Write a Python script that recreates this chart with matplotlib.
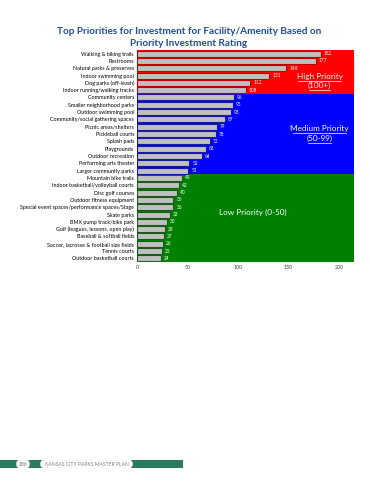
import matplotlib
matplotlib.use("Agg")
import matplotlib.pyplot as plt
from matplotlib.patches import FancyBboxPatch

plt.rcParams['font.family'] = ['Lato', 'DejaVu Sans']

categories = [
    "Walking & biking trails", "Restrooms", "Natural parks & preserves",
    "Indoor swimming pool", "Dog parks (off-leash)", "Indoor running/walking tracks",
    "Community centers", "Smaller neighborhood parks", "Outdoor swimming pool",
    "Community/social gathering spaces", "Picnic areas/shelters", "Pickleball courts",
    "Splash pads", "Playgrounds", "Outdoor recreation", "Performing arts theater",
    "Larger community parks", "Mountain bike trails", "Indoor basketball/volleyball courts",
    "Disc golf courses", "Outdoor fitness equipment",
    "Special event spaces/performance spaces/Stage", "Skate parks",
    "BMX pump track/bike park", "Golf (leagues, lessons, open play)",
    "Baseball & softball fields", "Soccer, lacrosse & football size fields",
    "Tennis courts", "Outdoor basketball courts",
]
values = [182, 177, 148, 131, 112, 108, 96, 95, 93, 87, 79, 78, 72, 68, 64, 52, 51,
          45, 42, 40, 36, 36, 33, 30, 28, 27, 26, 25, 24]
xticks = [0, 50, 100, 150, 200]
bands = [  # (first row, last row, color, edge color)
    (0, 5, "#ff0000", "#c00000"),
    (6, 16, "#0000ff", "#1a1aa0"),
    (17, 28, "#008000", "#1e5a1e"),
]

fig = plt.figure(figsize=(3.7, 4.8), dpi=100)
ax = fig.add_axes([0.370, 0.454, 0.587, 0.442])
n = len(categories)
ypos = list(range(n))

for first, last, col, ecol in bands:
    ax.axhspan(first - 0.5, last + 0.5, color=col, zorder=0, lw=0)

edgecols = []
for i in ypos:
    for first, last, col, ecol in bands:
        if first <= i <= last:
            edgecols.append(ecol)
ax.barh(ypos, values, height=0.82, color="#c0c0c0", edgecolor=edgecols, linewidth=0.8, zorder=2)
for i, v in enumerate(values):
    ax.text(v + 3, i, str(v), color="white", fontsize=3.4, va="center", ha="left", zorder=3)


def ann(x, y, s, underline_w=None):
    ax.text(x, y, s, color="white", fontsize=5.9, ha="center", va="center", zorder=3)
    if underline_w:
        ax.plot([x - underline_w / 2, x + underline_w / 2], [y + 0.6, y + 0.6],
                color="white", lw=0.5, zorder=3)


ann(181, 3.1, "High Priority", 43)
ann(181, 4.4, "(100+)", 21)
ann(181, 10.2, "Medium Priority", 52)
ann(181, 11.6, "(50-99)", 23)
ax.text(115, 21.7, "Low Priority (0-50)", color="white", fontsize=5.9,
        ha="center", va="center", zorder=3)

ax.set_xlim(0, 215)
ax.set_ylim(n - 0.5, -0.5)
ax.set_yticks(ypos)
ax.set_yticklabels(categories, fontsize=3.9)
ax.set_xticks(xticks)
ax.set_xticklabels([str(t) for t in xticks], fontsize=3.8, color="#404040")
ax.tick_params(length=0, pad=2)
for s in ax.spines.values():
    s.set_visible(False)
ax.axhline(n - 0.5, color="#a0b8a0", lw=0.8, zorder=4)

fig.text(0.51, 1 - 31 / 480, "Top Priorities for Investment for Facility/Amenity Based on",
         ha="center", va="center", fontsize=7.2, fontweight="bold", color="#1f4e9c")
fig.text(0.51, 1 - 43.5 / 480, "Priority Investment Rating",
         ha="center", va="center", fontsize=7.2, fontweight="bold", color="#1f4e9c")

# footer
fig.patches.append(plt.Rectangle((0, 1 - 468 / 480), 183 / 370, 8 / 480,
                                 transform=fig.transFigure, color="#2a7a5c", lw=0))
fig.patches.append(FancyBboxPatch((17 / 370, 1 - 467 / 480), 12 / 370, 6 / 480,
                                  boxstyle="round,pad=0.002,rounding_size=0.008",
                                  transform=fig.transFigure, fc="white", ec="none"))
fig.text(23 / 370, 1 - 464 / 480, "186", fontsize=3.6, color="#707070", ha="center", va="center")
fig.patches.append(FancyBboxPatch((41 / 370, 1 - 467 / 480), 91 / 370, 6 / 480,
                                  boxstyle="round,pad=0.002,rounding_size=0.008",
                                  transform=fig.transFigure, fc="white", ec="none"))
fig.text(86.5 / 370, 1 - 464 / 480, "KANSAS CITY PARKS MASTER PLAN", fontsize=3.6,
         color="#808080", ha="center", va="center")

fig.savefig("out.png", dpi=100)
